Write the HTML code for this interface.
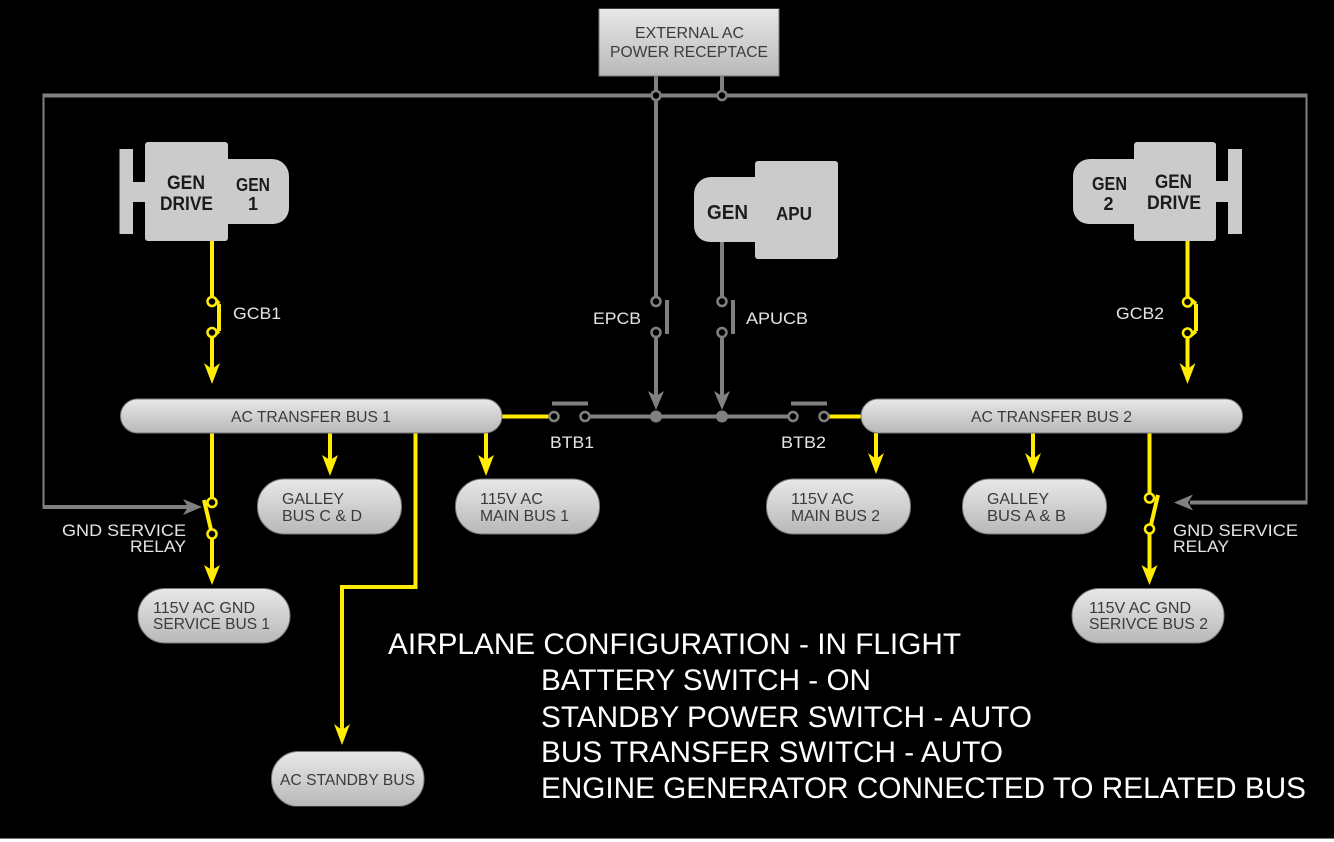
<!DOCTYPE html>
<html><head><meta charset="utf-8"><style>
html,body{margin:0;padding:0;background:#fff;width:1334px;height:842px;overflow:hidden}
svg{display:block}
text{font-family:"Liberation Sans",Arial,sans-serif}
.p{fill:#3a3a3a;font-size:16px}
.l{fill:#e4e4e4;font-size:17px}
.b{fill:#1c1c1c;font-size:19px;font-weight:bold}
.b2{font-size:18px}
.w{fill:#fff;font-size:30px}
.g{fill:none;stroke:#808080;stroke-width:4}
.y{fill:none;stroke:#ffec00;stroke-width:4}
.ng{fill:#000;stroke:#808080;stroke-width:2.5}
.ny{fill:#000;stroke:#ffec00;stroke-width:2.5}
.bx{fill:url(#gr);stroke:#777;stroke-width:1}
</style></head><body>
<svg width="1334" height="842" viewBox="0 0 1334 842" xmlns="http://www.w3.org/2000/svg">
<defs>
<linearGradient id="gr" x1="0" y1="0" x2="0" y2="1"><stop offset="0" stop-color="#e8e8e8"/><stop offset="1" stop-color="#b8b8b8"/></linearGradient>
<filter id="s" x="0" y="0" width="100%" height="100%"><feGaussianBlur stdDeviation="0.35"/></filter>
</defs>
<rect width="1334" height="838" fill="#000"/>
<rect y="838" width="1334" height="1" fill="#777"/>
<g filter="url(#s)">
<!-- gray lines -->
<path class="g" d="M188 507H42.500V95.500H1307.500V502.500H1190"/>
<path class="g" d="M656 76V301M722 76V95M722 242V301M656 332V396M722 332V396M585 416.500H793"/>
<path class="g" d="M667 300V334M733 300V334M552 403.500H588M791 403.500H827"/>
<polygon fill="#808080" points="656,410 648,391 656,396 664,391"/>
<polygon fill="#808080" points="722,410 714,391 722,396 730,391"/>
<polygon fill="#808080" points="202,507 183,499 188,507 183,515"/>
<polygon fill="#808080" points="1174,502.500 1193,494.500 1188,502.500 1193,510.500"/>
<circle cx="656" cy="416.500" r="6" fill="#808080"/><circle cx="722" cy="416.500" r="6" fill="#808080"/>
<!-- yellow lines -->
<path class="y" d="M212 241V296M212 332V369M219 304V331M214 298L219 304M214 335L219 331"/>
<path class="y" d="M1187.500 241V297M1187.500 333V369M1196 304V331M1190 299L1196 304M1190 336L1196 331"/>
<path class="y" d="M212 433V497M212 534V570M204 500L212 534"/>
<path class="y" d="M1149.500 433V493M1149.500 529V570M1158 495L1150 529"/>
<path class="y" d="M330 433V460M486 433V460M876 433V460M1033 433V460M415.500 433V587H342V730"/>
<path class="y" d="M500 416.500H549M829 416.500H863"/>
<g fill="#ffec00">
<polygon points="212,384 204,363 212,369 220,363"/>
<polygon points="1187.500,384 1179.500,363 1187.500,369 1195.500,363"/>
<polygon points="212,585 204,565 212,570 220,565"/>
<polygon points="1149.500,585 1141.500,565 1149.500,570 1157.500,565"/>
<polygon points="330,476 322,455 330,460 338,455"/>
<polygon points="486,476 478,455 486,460 494,455"/>
<polygon points="876,474 868,453 876,459 884,453"/>
<polygon points="1033,474 1025,453 1033,459 1041,453"/>
<polygon points="342,745 334,724 342,730 350,724"/>
</g>
<!-- nodes -->
<circle class="ng" cx="656" cy="95.500" r="4.500"/><circle class="ng" cx="722" cy="95.500" r="4.500"/>
<circle class="ng" cx="656" cy="301.500" r="4.500"/><circle class="ng" cx="656" cy="332.500" r="4.500"/>
<circle class="ng" cx="722" cy="301.500" r="4.500"/><circle class="ng" cx="722" cy="332.500" r="4.500"/>
<circle class="ng" cx="554" cy="416.500" r="4.500"/><circle class="ng" cx="585" cy="416.500" r="4.500"/>
<circle class="ng" cx="793" cy="416.500" r="4.500"/><circle class="ng" cx="824" cy="416.500" r="4.500"/>
<circle class="ny" cx="212" cy="301.500" r="4.500"/><circle class="ny" cx="212" cy="332.500" r="4.500"/>
<circle class="ny" cx="1187.500" cy="302" r="4.500"/><circle class="ny" cx="1187.500" cy="333" r="4.500"/>
<circle class="ny" cx="212" cy="502.500" r="4.500"/><circle class="ny" cx="212" cy="534" r="4.500"/>
<circle class="ny" cx="1149.500" cy="498" r="4.500"/><circle class="ny" cx="1149.500" cy="529" r="4.500"/>
<!-- generators -->
<g fill="#cbcbcb">
<rect x="119.500" y="149" width="13.500" height="85"/><rect x="132" y="182" width="14" height="20"/>
<rect x="145" y="142" width="83" height="99" rx="3"/>
<path d="M227 159H272a17 17 0 0 1 17 17V208a16 16 0 0 1 -16 16H227Z"/>
<rect x="1228" y="149" width="14" height="85"/><rect x="1215" y="181" width="14" height="21"/>
<rect x="1134" y="142" width="82" height="99" rx="3"/>
<path d="M1135 159H1090a17 17 0 0 0 -17 17V208a16 16 0 0 0 16 16H1135Z"/>
<rect x="755" y="161" width="83" height="98" rx="3"/>
<path d="M756 177H711a17 17 0 0 0 -17 17V226a16 16 0 0 0 16 16H756Z"/>
</g>
<!-- boxes -->
<rect class="bx" x="599" y="8.500" width="180" height="67.500"/>
<rect class="bx" x="120.500" y="399" width="381.500" height="34" rx="17"/>
<rect class="bx" x="861" y="399" width="381.500" height="34" rx="17"/>
<rect class="bx" x="257.500" y="479" width="144" height="55" rx="27"/>
<rect class="bx" x="455.500" y="479" width="144" height="55" rx="27"/>
<rect class="bx" x="766.500" y="479" width="144" height="55" rx="27"/>
<rect class="bx" x="962.500" y="479" width="144" height="55" rx="27"/>
<rect class="bx" x="138" y="588.500" width="152" height="54.500" rx="27"/>
<rect class="bx" x="1072" y="588.500" width="152" height="54.500" rx="27"/>
<rect class="bx" x="271.500" y="751.500" width="152.500" height="55" rx="27"/>
<!-- text in boxes -->
<text class="p" x="635" y="38" textLength="109" lengthAdjust="spacingAndGlyphs">EXTERNAL AC</text>
<text class="p" x="610" y="57" textLength="158" lengthAdjust="spacingAndGlyphs">POWER RECEPTACE</text>
<text class="p" x="231" y="422" textLength="160" lengthAdjust="spacingAndGlyphs">AC TRANSFER BUS 1</text>
<text class="p" x="971" y="422" textLength="161" lengthAdjust="spacingAndGlyphs">AC TRANSFER BUS 2</text>
<text class="p" x="282" y="504" textLength="62" lengthAdjust="spacingAndGlyphs">GALLEY</text>
<text class="p" x="282" y="521" textLength="80" lengthAdjust="spacingAndGlyphs">BUS C &amp; D</text>
<text class="p" x="480" y="504" textLength="63" lengthAdjust="spacingAndGlyphs">115V AC</text>
<text class="p" x="480" y="521" textLength="89" lengthAdjust="spacingAndGlyphs">MAIN BUS 1</text>
<text class="p" x="791" y="504" textLength="63" lengthAdjust="spacingAndGlyphs">115V AC</text>
<text class="p" x="791" y="521" textLength="89" lengthAdjust="spacingAndGlyphs">MAIN BUS 2</text>
<text class="p" x="987" y="504" textLength="62" lengthAdjust="spacingAndGlyphs">GALLEY</text>
<text class="p" x="987" y="521" textLength="79" lengthAdjust="spacingAndGlyphs">BUS A &amp; B</text>
<text class="p" x="153" y="613" textLength="102" lengthAdjust="spacingAndGlyphs">115V AC GND</text>
<text class="p" x="153" y="629" textLength="117" lengthAdjust="spacingAndGlyphs">SERVICE BUS 1</text>
<text class="p" x="1089" y="613" textLength="102" lengthAdjust="spacingAndGlyphs">115V AC GND</text>
<text class="p" x="1089" y="629" textLength="119" lengthAdjust="spacingAndGlyphs">SERIVCE BUS 2</text>
<text class="p" x="280" y="785" textLength="135" lengthAdjust="spacingAndGlyphs">AC STANDBY BUS</text>
<!-- bold -->
<text class="b" x="167" y="189" textLength="38" lengthAdjust="spacingAndGlyphs">GEN</text>
<text class="b" x="160" y="210" textLength="53" lengthAdjust="spacingAndGlyphs">DRIVE</text>
<text class="b b2" x="236" y="191" textLength="34" lengthAdjust="spacingAndGlyphs">GEN</text>
<text class="b b2" x="253" y="210" text-anchor="middle">1</text>
<text class="b b2" x="1092" y="190" textLength="35" lengthAdjust="spacingAndGlyphs">GEN</text>
<text class="b b2" x="1108.500" y="210" text-anchor="middle">2</text>
<text class="b" x="1155" y="188" textLength="37" lengthAdjust="spacingAndGlyphs">GEN</text>
<text class="b" x="1147" y="209" textLength="54" lengthAdjust="spacingAndGlyphs">DRIVE</text>
<text class="b" style="font-size:20px" x="707" y="219" textLength="41" lengthAdjust="spacingAndGlyphs">GEN</text>
<text class="b" style="font-size:18px" x="776" y="220" textLength="36" lengthAdjust="spacingAndGlyphs">APU</text>
<!-- labels -->
<text class="l" x="233" y="319" textLength="48" lengthAdjust="spacingAndGlyphs">GCB1</text>
<text class="l" x="1116" y="319" textLength="48" lengthAdjust="spacingAndGlyphs">GCB2</text>
<text class="l" x="593" y="324" textLength="48" lengthAdjust="spacingAndGlyphs">EPCB</text>
<text class="l" x="746" y="324" textLength="62" lengthAdjust="spacingAndGlyphs">APUCB</text>
<text class="l" x="550" y="448" textLength="44" lengthAdjust="spacingAndGlyphs">BTB1</text>
<text class="l" x="781" y="448" textLength="45" lengthAdjust="spacingAndGlyphs">BTB2</text>
<text class="l" x="62" y="536" textLength="124" lengthAdjust="spacingAndGlyphs">GND SERVICE</text>
<text class="l" x="130" y="552" textLength="56" lengthAdjust="spacingAndGlyphs">RELAY</text>
<text class="l" x="1173" y="536" textLength="125" lengthAdjust="spacingAndGlyphs">GND SERVICE</text>
<text class="l" x="1173" y="552" textLength="56" lengthAdjust="spacingAndGlyphs">RELAY</text>
<!-- big -->
<text class="w" x="388" y="654" textLength="573" lengthAdjust="spacingAndGlyphs">AIRPLANE CONFIGURATION - IN FLIGHT</text>
<text class="w" x="541" y="690" textLength="330" lengthAdjust="spacingAndGlyphs">BATTERY SWITCH - ON</text>
<text class="w" x="541" y="727" textLength="491" lengthAdjust="spacingAndGlyphs">STANDBY POWER SWITCH - AUTO</text>
<text class="w" x="541" y="762" textLength="462" lengthAdjust="spacingAndGlyphs">BUS TRANSFER SWITCH - AUTO</text>
<text class="w" x="541" y="798" textLength="765" lengthAdjust="spacingAndGlyphs">ENGINE GENERATOR CONNECTED TO RELATED BUS</text>
</g>
</svg>
</body></html>
